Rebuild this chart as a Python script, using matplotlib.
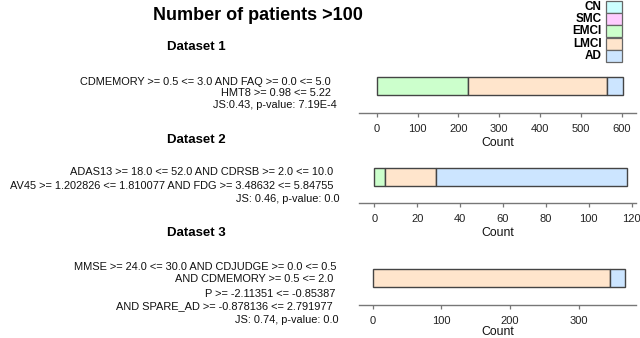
import matplotlib
matplotlib.use("Agg")
import matplotlib.pyplot as plt
from matplotlib.patches import Rectangle

plt.rcParams['font.family'] = ['Liberation Sans', 'DejaVu Sans']

categories = ['CN', 'SMC', 'EMCI', 'LMCI', 'AD']
colors = ['#CCFFFF', '#FFCCFF', '#CCFFCC', '#FFE5CC', '#CCE5FF']

d1_counts = [0, 0, 224, 339, 40]
d2_counts = [0, 0, 5, 24, 89]
d3_counts = [0, 0, 0, 346, 22]

d1_ticks = [0, 100, 200, 300, 400, 500, 600]
d2_ticks = [0, 20, 40, 60, 80, 100, 120]
d3_ticks = [0, 100, 200, 300]

d1_rules = ["CDMEMORY >= 0.5 <= 3.0 AND FAQ >= 0.0 <= 5.0",
            "HMT8 >= 0.98 <= 5.22",
            "JS:0.43, p-value: 7.19E-4"]
d2_rules = ["ADAS13 >= 18.0 <= 52.0 AND CDRSB >= 2.0 <= 10.0",
            "AV45 >= 1.202826 <= 1.810077 AND FDG >= 3.48632 <= 5.84755",
            "JS: 0.46, p-value: 0.0"]
d3_rules = ["MMSE >= 24.0 <= 30.0 AND CDJUDGE >= 0.0 <= 0.5",
            "AND CDMEMORY >= 0.5 <= 2.0",
            "P >= -2.11351 <= -0.85387",
            "AND SPARE_AD >= -0.878136 <= 2.791977",
            "JS: 0.74, p-value: 0.0"]

W, H = 640, 338
fig = plt.figure(figsize=(W / 100, H / 100), dpi=100)


def fx(x):
    return x / W


def fy(y):
    return 1 - y / H


fig.text(fx(258), fy(15), "Number of patients >100", ha='center', va='center',
         fontsize=13, fontweight='bold')

# layout (pixels)
panels = [
    dict(counts=d1_counts, ticks=d1_ticks, xlim=(-43.3, 635), axis_y=112.7,
         bar=(77, 95), title="Dataset 1", title_y=47, rules=d1_rules,
         rule_y=[82, 93, 105], rule_x=[331, 331, 337], lpad=2),
    dict(counts=d2_counts, ticks=d2_ticks, xlim=(-7.1, 122), axis_y=203,
         bar=(167.7, 186), title="Dataset 2", title_y=140, rules=d2_rules,
         rule_y=[172, 186, 199], rule_x=[333, 333, 340], lpad=2),
    dict(counts=d3_counts, ticks=d3_ticks, xlim=(-20, 383.4), axis_y=304.5,
         bar=(269, 287.3), title="Dataset 3", title_y=233, rules=d3_rules,
         rule_y=[267, 279.5, 294, 306.5, 320], rule_x=[337, 333, 335, 333, 339],
         lpad=0),
]

ax_left, ax_right = 359, 636
for p in panels:
    top = p['bar'][0] - 5
    bottom = p['axis_y']
    ax = fig.add_axes([fx(ax_left), fy(bottom), (ax_right - ax_left) / W, (bottom - top) / H])
    ax.set_xlim(*p['xlim'])
    y0 = p['bar'][0] - top
    h = p['bar'][1] - p['bar'][0]
    left = 0
    for c, v, col in zip(categories, p['counts'], colors):
        if v > 0:
            ax.barh(y0 + h / 2, v, height=h, left=left, color=col,
                    edgecolor='#444444', linewidth=1.0)
        left += v
    ax.set_ylim(bottom - top, 0)
    for s in ['left', 'right', 'top']:
        ax.spines[s].set_visible(False)
    ax.spines['bottom'].set_color('#777777')
    ax.spines['bottom'].set_linewidth(1.0)
    ax.set_yticks([])
    ax.set_xticks(p['ticks'])
    ax.tick_params(axis='x', direction='out', length=3, width=0.9, color='#777777',
                   labelsize=8, pad=5, labelcolor='#222222')
    ax.set_xlabel("Count", fontsize=8.8, labelpad=p['lpad'], color='#111111')
    ax.patch.set_alpha(0)

    fig.text(fx(196), fy(p['title_y']), p['title'], ha='center', va='center',
             fontsize=9.5, fontweight='bold')
    for txt, yy, xx in zip(p['rules'], p['rule_y'], p['rule_x']):
        fig.text(fx(xx), fy(yy), txt, ha='right', va='center', fontsize=7.9,
                 color='#111111')

# legend
lax = fig.add_axes([fx(560), fy(64), 70 / W, 64 / H])
lax.set_xlim(560, 630)
lax.set_ylim(64, 0)
lax.axis('off')
row_h = 12.3
for i, (c, col) in enumerate(zip(categories, colors)):
    y = 0.6 + i * row_h
    lax.add_patch(Rectangle((605.7, y), 16.6, row_h, facecolor=col,
                            edgecolor='#666666', linewidth=0.9))
    lax.text(601.5, y + row_h / 2, c, ha='right', va='center', fontsize=8.5,
             fontweight='bold')

fig.savefig("out.png", dpi=100)
